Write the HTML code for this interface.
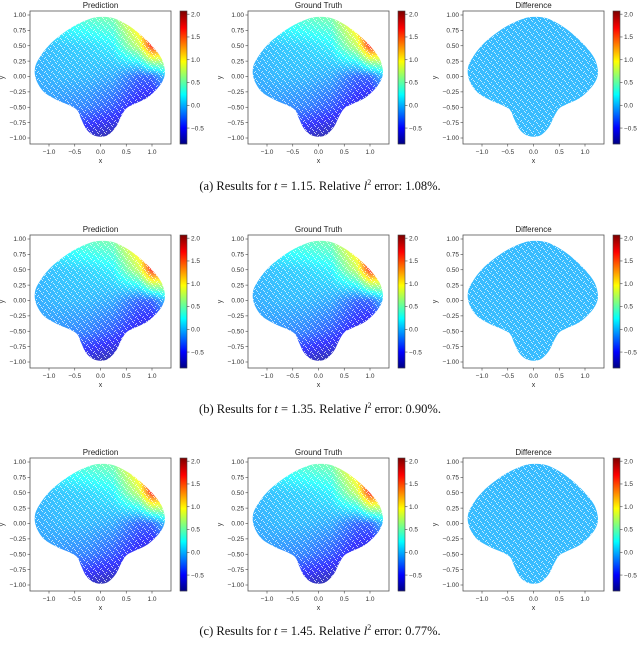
<!DOCTYPE html>
<html><head><meta charset="utf-8">
<style>
body{margin:0;background:#fff;width:640px;height:651px;overflow:hidden;font-family:"Liberation Sans",sans-serif}
svg{position:absolute;left:0;top:0}
.cap{position:absolute;left:0;width:640px;text-align:center;font-family:"Liberation Serif",serif;font-size:12.5px;color:#111}
</style></head><body>
<svg id="fig" width="640" height="651"></svg>
<div class="cap" style="top:178px">(a) Results for <i>t</i> = 1.15. Relative <i>l</i><sup style="font-size:8px">2</sup> error: 1.08%.</div>
<div class="cap" style="top:401px">(b) Results for <i>t</i> = 1.35. Relative <i>l</i><sup style="font-size:8px">2</sup> error: 0.90%.</div>
<div class="cap" style="top:623px">(c) Results for <i>t</i> = 1.45. Relative <i>l</i><sup style="font-size:8px">2</sup> error: 0.77%.</div>
<script>
const titles=["Prediction","Ground Truth","Difference"];
const rowTops=[11,235,458];
const colLefts=[30,248,463];
const xTicks=[-1.0,-0.5,0.0,0.5,1.0];
const yTicks=[1.00,0.75,0.50,0.25,0.00,-0.25,-0.50,-0.75,-1.00];
const cbTicks=[2.0,1.5,1.0,0.5,0.0,-0.5];
const cbMin=-0.85, cbMax=2.07;
const gridX=[-1.25,-0.75,-0.25,0.25,0.75,1.0,1.25];
const gridY=[1.0,0.5,0.0,-0.5,-1.0];
const fieldVals=[
 [0.3,0.35,0.45,0.55,1.3,2.0,2.0],
 [0.0,0.05,0.1,0.2,0.8,1.7,1.5],
 [-0.05,0.0,0.0,-0.05,-0.3,-0.3,0.0],
 [-0.1,-0.15,-0.2,-0.35,-0.6,-0.7,-0.7],
 [-0.4,-0.5,-0.7,-0.8,-0.8,-0.8,-0.8]];
const diffVal=0.0;
const boundX=[0,0.25,0.5,0.75,1.0,1.18,1.25,1.22,1.1,0.9,0.65,0.5,0.4,0.3,0.15,0,-0.15,-0.28,-0.38,-0.45,-0.6,-0.85,-1.1,-1.25,-1.27,-1.15,-0.95,-0.7,-0.45,-0.2];
const boundY=[0.97,0.95,0.85,0.7,0.5,0.3,0.1,-0.05,-0.2,-0.35,-0.45,-0.52,-0.65,-0.82,-0.95,-0.98,-0.95,-0.85,-0.68,-0.55,-0.47,-0.38,-0.25,-0.05,0.15,0.35,0.55,0.72,0.85,0.94];

const NS="http://www.w3.org/2000/svg";
const fig=document.getElementById('fig');
function mk(t,a,p){const e=document.createElementNS(NS,t);for(const k in a)e.setAttribute(k,a[k]);(p||fig).appendChild(e);return e;}
function clip(v){return Math.max(0,Math.min(1,v));}
function jet(t,light){let r=clip(1.5-Math.abs(4*t-3)),g=clip(1.5-Math.abs(4*t-2)),b=clip(1.5-Math.abs(4*t-1));
 if(light){r=r+(1-r)*light;g=g+(1-g)*light;b=b+(1-b)*light;}
 return `rgb(${Math.round(r*255)},${Math.round(g*255)},${Math.round(b*255)})`;}
function field(x,y){
 let i=0;while(i<gridX.length-2&&x>gridX[i+1])i++;
 let j=0;while(j<gridY.length-2&&y<gridY[j+1])j++;
 const tx=clip((x-gridX[i])/(gridX[i+1]-gridX[i])),ty=clip((y-gridY[j])/(gridY[j+1]-gridY[j]));
 const a=fieldVals[j][i],b=fieldVals[j][i+1],c=fieldVals[j+1][i],d=fieldVals[j+1][i+1];
 return (a*(1-tx)+b*tx)*(1-ty)+(c*(1-tx)+d*tx)*ty;}
function smoothPath(pts){
 const n=pts.length;let d=`M${pts[0][0]},${pts[0][1]}`;
 for(let i=0;i<n;i++){const p0=pts[(i-1+n)%n],p1=pts[i],p2=pts[(i+1)%n],p3=pts[(i+2)%n];
  d+=` C${p1[0]+(p2[0]-p0[0])/6},${p1[1]+(p2[1]-p0[1])/6} ${p2[0]-(p3[0]-p1[0])/6},${p2[1]-(p3[1]-p1[1])/6} ${p2[0]},${p2[1]}`;}
 return d+'Z';}
const defs=mk('defs',{});
const pat=mk('pattern',{id:'speck',width:7,height:7,patternUnits:'userSpaceOnUse'},defs);
[[0,0],[3,1],[5,4],[1,5],[4,3],[6,6],[2,2]].forEach(p=>mk('rect',{x:p[0],y:p[1],width:1,height:1,fill:'#fff','fill-opacity':0.7},pat));
const AW=141,AH=133;
let cid=0;
rowTops.forEach((top,r)=>{colLefts.forEach((left,c)=>{
 const g=mk('g',{});
 
 
 const sx=v=>left+70.5+v*51.5, sy=v=>top+65.5-v*61.5;
 const t=mk('text',{x:left+AW/2,y:top-3,'text-anchor':'middle','font-size':8,fill:'#222'},g);t.textContent=titles[c];
 
 const id='cl'+(cid++);
 const cp=mk('clipPath',{id:id},g);
 mk('path',{d:smoothPath(boundX.map((x,k)=>[sx(x),sy(boundY[k])]))},cp);
 const sg=mk('g',{'clip-path':`url(#${id})`},g);
 
 const step=2;
 for(let px=left;px<left+AW;px+=step)for(let py=top;py<top+AH;py+=step){
  const x=(px+step/2-left-70.5)/51.5,y=(top+65.5-py-step/2)/61.5;
  const v=c==2?diffVal:field(x,y);
  mk('rect',{x:px,y:py,width:step,height:step,fill:jet((v-cbMin)/(cbMax-cbMin),0.22)},sg);}
 mk('rect',{x:left,y:top,width:AW,height:AH,fill:'url(#speck)'},sg);
 const ax=mk('rect',{x:left,y:top,width:AW,height:AH,fill:'none',stroke:'#555','stroke-width':0.8},g);
 
 xTicks.forEach(v=>{const X=sx(v);mk('line',{x1:X,x2:X,y1:top+AH,y2:top+AH+2.5,stroke:'#444','stroke-width':0.6},g);
  const tt=mk('text',{x:X,y:top+AH+10,'text-anchor':'middle','font-size':6.5,fill:'#333'},g);tt.textContent=v.toFixed(1).replace('-','\u2212');});
 yTicks.forEach(v=>{const Y=sy(v);mk('line',{x1:left,x2:left-2.5,y1:Y,y2:Y,stroke:'#444','stroke-width':0.6},g);
  const tt=mk('text',{x:left-4,y:Y+2.2,'text-anchor':'end','font-size':6.5,fill:'#333'},g);tt.textContent=v.toFixed(2).replace('-','\u2212');});
 const xl=mk('text',{x:left+AW/2,y:top+AH+19,'text-anchor':'middle','font-size':7,fill:'#333'},g);xl.textContent='x';
 
 const yl=mk('text',{x:left-26,y:top+AH/2,'text-anchor':'middle','font-size':7,fill:'#333',transform:`rotate(-90 ${left-26} ${top+AH/2})`},g);yl.textContent='y';
 
 const cbx=left+AW+9,cbw=7;
 const cb=mk('g',{},g);
 for(let k=0;k<AH;k++){mk('rect',{x:cbx,y:top+k,width:cbw,height:1.2,fill:jet(1-k/AH,0)},cb);}
 mk('rect',{x:cbx,y:top,width:cbw,height:AH,fill:'none',stroke:'#444','stroke-width':0.6},cb);
 const cy=v=>top+AH*(cbMax-v)/(cbMax-cbMin);
 cbTicks.forEach(v=>{const Y=cy(v);mk('line',{x1:cbx+cbw,x2:cbx+cbw+2.5,y1:Y,y2:Y,stroke:'#444','stroke-width':0.6},cb);
  const tt=mk('text',{x:cbx+cbw+4,y:Y+2.2,'font-size':6.5,fill:'#333'},cb);tt.textContent=v.toFixed(1).replace('-','\u2212');});
});});
</script>
</body></html>
